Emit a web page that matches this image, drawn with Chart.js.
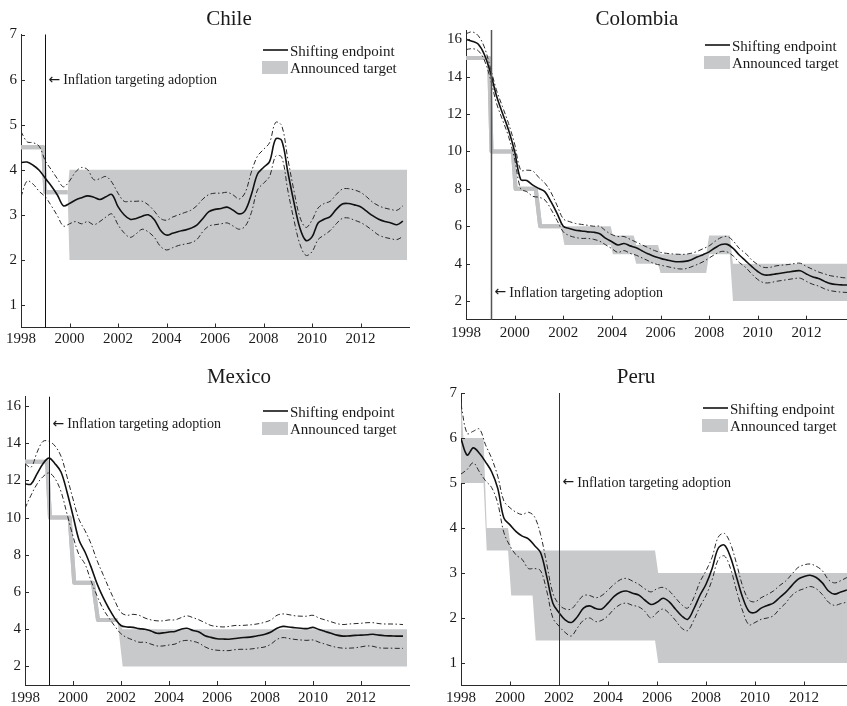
<!DOCTYPE html>
<html>
<head>
<meta charset="utf-8">
<script src="https://cdn.jsdelivr.net/npm/chart.js@4.4.1/dist/chart.umd.min.js"></script>
<style>
  html, body { margin: 0; padding: 0; background: #fff; overflow: hidden; }
  #page { position: relative; width: 847px; height: 706px; overflow: hidden; background: #fff; }
  #page canvas { position: absolute; }
</style>
</head>
<body>
<div id="page">
  <canvas id="chile" width="425" height="350" style="left:0;top:0"></canvas>
  <canvas id="colombia" width="440" height="345" style="left:425px;top:0"></canvas>
  <canvas id="mexico" width="425" height="356" style="left:0;top:350px"></canvas>
  <canvas id="peru" width="440" height="356" style="left:425px;top:350px"></canvas>
</div>
<script>
// Quarterly observation dates, 1998Q1 .. 2013Q4 (decimal years)
const quarters = Array.from({ length: 64 }, (_, i) => 1998 + i / 4);

const yearTicks = [1998, 2000, 2002, 2004, 2006, 2008, 2010, 2012];
const lowRangeTicks = [1, 2, 3, 4, 5, 6, 7];
const highRangeTicks = [2, 4, 6, 8, 10, 12, 14, 16];

// ---- Chile ----
const chileTrend = [4.16,4.17,4.10,3.99, 3.81,3.64,3.44,3.20, 3.25,3.33,3.38,3.42, 3.39,3.34,3.40,3.45,
  3.18,3.00,2.90,2.92, 2.97,3.00,2.89,2.66, 2.55,2.59,2.63,2.66, 2.70,2.77,2.92,3.07,
  3.12,3.14,3.17,3.10, 3.02,3.10,3.45,3.90, 4.05,4.18,4.68,4.65, 3.96,3.29,2.71,2.43,
  2.51,2.82,2.90,2.96, 3.12,3.24,3.25,3.22, 3.18,3.08,2.98,2.90, 2.85,2.82,2.78,2.86];
const chileUpper = [4.85,4.62,4.60,4.52, 4.20,4.00,3.80,3.62, 3.75,3.95,4.05,4.00, 3.78,3.80,3.85,3.72,
  3.48,3.30,3.30,3.30, 3.30,3.22,3.08,2.92, 2.88,2.95,3.00,3.05, 3.10,3.20,3.35,3.45,
  3.48,3.48,3.50,3.44, 3.35,3.50,3.95,4.30, 4.45,4.60,5.05,4.98, 4.25,3.55,2.95,2.72,
  2.88,3.15,3.25,3.30, 3.45,3.57,3.58,3.55, 3.50,3.40,3.28,3.20, 3.15,3.12,3.10,3.20];
const chileLower = [3.40,3.75,3.68,3.52, 3.40,3.20,2.98,2.75, 2.80,2.85,2.80,2.85, 2.78,2.85,2.95,3.02,
  2.78,2.60,2.50,2.58, 2.68,2.62,2.50,2.30, 2.22,2.27,2.32,2.35, 2.38,2.45,2.63,2.75,
  2.78,2.80,2.82,2.75, 2.68,2.75,3.05,3.55, 3.70,3.85,4.30,4.28, 3.55,2.90,2.35,2.10,
  2.18,2.45,2.55,2.65, 2.80,2.92,2.93,2.88, 2.83,2.75,2.65,2.55, 2.50,2.47,2.45,2.52];
const chileTargetDates = [1998.0, 1998.92, 1999.0, 1999.92, 2000.0, 2013.92];
const chileTargetLow   = [4.5, 4.5, 3.5, 3.5, 2, 2];
const chileTargetHigh  = [4.5, 4.5, 3.5, 3.5, 4, 4];

// ---- Colombia ----
const colombiaTrend = [16.00,15.90,15.75,15.20, 14.25,13.00,12.05,11.15, 10.00,8.50,8.45,8.20, 8.02,7.84,7.30,6.68,
  6.00,5.88,5.79,5.75, 5.70,5.68,5.60,5.35, 5.17,5.00,5.08,4.95, 4.85,4.68,4.52,4.38,
  4.28,4.20,4.13,4.10, 4.12,4.20,4.35,4.48, 4.63,4.85,5.02,5.03, 4.80,4.45,4.15,3.85,
  3.58,3.40,3.40,3.45, 3.50,3.55,3.60,3.62, 3.45,3.30,3.20,3.05, 2.93,2.88,2.86,2.85];
const colombiaUpper = [16.30,16.40,16.20,15.60, 14.50,13.30,12.40,11.50, 10.40,9.00,9.00,8.95, 8.60,8.30,7.80,7.10,
  6.40,6.25,6.15,6.10, 6.05,6.00,6.00,5.75, 5.55,5.45,5.45,5.30, 5.15,5.00,4.85,4.70,
  4.60,4.55,4.52,4.50, 4.50,4.55,4.65,4.80, 4.95,5.20,5.40,5.45, 5.20,4.80,4.55,4.20,
  3.95,3.80,3.80,3.88, 3.92,3.95,4.00,4.02, 3.85,3.70,3.55,3.45, 3.35,3.30,3.25,3.22];
const colombiaLower = [15.45,15.50,15.40,14.90, 13.90,12.60,11.70,10.80, 9.60,8.00,7.85,7.60, 7.55,7.40,6.90,6.30,
  5.70,5.50,5.40,5.35, 5.35,5.30,5.20,5.00, 4.80,4.60,4.70,4.55, 4.45,4.30,4.15,4.00,
  3.92,3.85,3.78,3.72, 3.72,3.82,3.95,4.10, 4.30,4.50,4.65,4.62, 4.40,4.05,3.80,3.45,
  3.15,2.98,2.98,3.05, 3.10,3.15,3.20,3.22, 3.05,2.90,2.80,2.65, 2.55,2.50,2.47,2.45];
const colombiaTargetDates = [1998.0, 1998.95, 1999.05, 1999.93, 2000.04, 2000.87, 2001.05, 2001.9, 2002.05, 2003.95,
  2004.04, 2004.9, 2005.0, 2005.9, 2006.0, 2007.88, 2008.0, 2008.85, 2008.98, 2013.92];
const colombiaTargetLow  = [15, 15, 10, 10, 8, 8, 6, 6, 5, 5, 4.5, 4.5, 4, 4, 3.5, 3.5, 4.5, 4.5, 2, 2];
const colombiaTargetHigh = [15, 15, 10, 10, 8, 8, 6, 6, 6, 6, 5.5, 5.5, 5, 5, 4.5, 4.5, 5.5, 5.5, 4, 4];

// ---- Mexico ----
const mexicoTrend = [11.82,11.80,12.35,12.90, 13.20,12.90,12.45,11.38, 10.10,8.80,8.15,7.35, 6.45,5.72,5.10,4.57,
  4.20,4.12,4.10,4.03, 4.00,3.90,3.78,3.80, 3.85,3.88,4.00,4.05, 3.93,3.85,3.65,3.56,
  3.49,3.47,3.46,3.50, 3.54,3.56,3.60,3.66, 3.73,3.85,4.05,4.15, 4.12,4.08,4.05,4.03,
  4.10,3.98,3.88,3.78, 3.68,3.63,3.64,3.67, 3.68,3.70,3.73,3.68, 3.65,3.64,3.63,3.63];
const mexicoUpper = [12.90,12.70,13.50,14.10, 14.10,13.85,13.30,12.20, 11.00,9.90,9.30,8.60, 7.70,6.95,6.20,5.50,
  4.90,4.75,4.80,4.75, 4.60,4.50,4.45,4.45, 4.50,4.50,4.62,4.72, 4.62,4.50,4.35,4.20,
  4.15,4.12,4.15,4.20, 4.20,4.22,4.25,4.30, 4.38,4.50,4.75,4.82, 4.78,4.72,4.70,4.70,
  4.75,4.60,4.50,4.40, 4.30,4.25,4.28,4.30, 4.32,4.35,4.35,4.30, 4.28,4.28,4.27,4.25];
const mexicoLower = [10.50,11.20,11.80,12.20, 12.40,12.10,11.40,10.20, 9.00,8.00,7.50,6.60, 5.80,5.10,4.60,4.15,
  3.75,3.55,3.42,3.30, 3.30,3.20,3.10,3.10, 3.15,3.20,3.35,3.40, 3.35,3.25,3.05,2.92,
  2.87,2.85,2.85,2.90, 2.92,2.92,2.95,3.00, 3.05,3.20,3.45,3.55, 3.50,3.45,3.42,3.40,
  3.42,3.30,3.20,3.10, 3.02,2.98,2.98,3.00, 3.05,3.10,3.08,3.00, 2.98,2.98,2.97,2.97];
const mexicoTargetDates = [1998.0, 1998.92, 1999.04, 1999.86, 2000.05, 2000.83, 2001.04, 2001.85, 2002.07, 2013.92];
const mexicoTargetLow  = [13, 13, 10, 10, 6.5, 6.5, 4.5, 4.5, 2, 2];
const mexicoTargetHigh = [13, 13, 10, 10, 6.5, 6.5, 4.5, 4.5, 4, 4];

// ---- Peru ----
const peruTrend = [5.98,5.62,5.78,5.66, 5.47,5.25,4.88,4.22, 4.07,3.92,3.82,3.76, 3.61,3.45,2.92,2.33,
  2.12,1.96,1.90,2.03, 2.22,2.27,2.21,2.20, 2.33,2.48,2.57,2.60, 2.55,2.51,2.40,2.30,
  2.35,2.44,2.36,2.20, 2.05,1.97,2.20,2.50, 2.75,3.10,3.55,3.62, 3.35,2.90,2.45,2.15,
  2.12,2.22,2.28,2.33, 2.45,2.57,2.72,2.86, 2.92,2.95,2.90,2.78, 2.60,2.53,2.58,2.62];
const peruUpper = [6.75,6.10,6.15,6.20, 5.85,5.55,5.15,4.60, 4.45,4.35,4.30,4.35, 4.25,3.85,3.20,2.55,
  2.30,2.20,2.20,2.35, 2.50,2.50,2.45,2.50, 2.62,2.75,2.85,2.88, 2.82,2.75,2.65,2.58,
  2.65,2.68,2.60,2.45, 2.30,2.22,2.45,2.80, 3.05,3.35,3.80,3.88, 3.65,3.20,2.70,2.40,
  2.36,2.45,2.52,2.60, 2.72,2.82,2.97,3.12, 3.18,3.20,3.15,3.05, 2.85,2.78,2.83,2.90];
const peruLower = [5.20,5.30,5.45,5.25, 5.05,4.90,4.55,3.90, 3.60,3.40,3.30,3.10, 3.10,3.05,2.60,2.00,
  1.82,1.68,1.60,1.78, 1.95,2.00,1.92,1.95, 2.05,2.20,2.30,2.33, 2.28,2.25,2.15,2.00,
  2.12,2.20,2.10,1.95, 1.78,1.72,1.95,2.25, 2.50,2.85,3.30,3.38, 3.10,2.60,2.15,1.85,
  1.90,1.97,2.00,2.05, 2.20,2.33,2.50,2.60, 2.65,2.70,2.65,2.52, 2.35,2.28,2.32,2.35];
const peruTargetDates = [1998.0, 1998.1, 1998.92, 1999.05, 1999.92, 2000.05, 2000.92, 2001.05, 2005.92, 2006.05, 2013.92];
const peruTargetLow  = [5.0, 5.0, 5.0, 3.5, 3.5, 2.5, 2.5, 1.5, 1.5, 1.0, 1.0];
const peruTargetHigh = [6.8, 6.0, 6.0, 4.0, 4.0, 3.5, 3.5, 3.5, 3.5, 3.0, 3.0];

// ---- drawing ----
const SERIF = '"Liberation Serif", "DejaVu Serif", serif';
const INK = '#1a1a1a';
const BAND = '#c8c9cb';
const POINT_TARGET = '#c1c2c4';

const toPoints = (xs, ys) => xs.map((x, i) => ({ x, y: ys[i] }));

function buildDatasets(trend, upper, lower, tDates, tLow, tHigh) {
  // thick grey line only where the target is a single number
  const pointTargetColor = ctx =>
    (tLow[ctx.p0DataIndex] === tHigh[ctx.p0DataIndex] && tLow[ctx.p1DataIndex] === tHigh[ctx.p1DataIndex])
      ? POINT_TARGET : 'rgba(0,0,0,0)';
  const bandLine = data => ({
    data, borderColor: '#2a2a2a', borderWidth: 1, borderDash: [5, 2.5, 1.5, 2.5],
    tension: 0.35, fill: false, order: 1
  });
  return [
    { data: toPoints(quarters, trend), borderColor: '#111', borderWidth: 1.6, tension: 0.35, fill: false, order: 0 },
    bandLine(toPoints(quarters, upper)),
    bandLine(toPoints(quarters, lower)),
    { data: toPoints(tDates, tLow), borderWidth: 4, borderColor: 'rgba(0,0,0,0)', borderCapStyle: 'butt',
      segment: { borderColor: pointTargetColor }, tension: 0, fill: false, order: 2 },
    { data: toPoints(tDates, tHigh), borderWidth: 4, borderColor: 'rgba(0,0,0,0)', borderCapStyle: 'butt',
      segment: { borderColor: pointTargetColor }, backgroundColor: BAND, tension: 0, fill: '-1', order: 2 }
  ];
}

const panelDecor = {
  id: 'panelDecor',
  afterDatasetsDraw(chart, args, o) {
    const { ctx, chartArea: a, scales: { x, y } } = chart;
    ctx.save();
    // inward tick marks
    ctx.strokeStyle = '#2b2b2b';
    ctx.lineWidth = 1;
    ctx.beginPath();
    for (const t of y.ticks) {
      const py = Math.round(y.getPixelForValue(t.value)) + 0.5;
      ctx.moveTo(a.left, py); ctx.lineTo(a.left + 4, py);
    }
    for (const t of x.ticks) {
      const px = Math.round(x.getPixelForValue(t.value)) + 0.5;
      ctx.moveTo(px, a.bottom); ctx.lineTo(px, a.bottom - 4);
    }
    ctx.stroke();

    // adoption date marker
    const vx = Math.round(x.getPixelForValue(o.adoption)) + 0.5;
    ctx.strokeStyle = o.adoptionColor;
    ctx.lineWidth = o.adoptionWidth;
    ctx.beginPath(); ctx.moveTo(vx, a.top); ctx.lineTo(vx, a.bottom); ctx.stroke();
    ctx.fillStyle = INK;
    ctx.textAlign = 'left';
    ctx.textBaseline = 'alphabetic';
    ctx.font = '14px "DejaVu Sans", sans-serif';
    const arrow = '\u2190';
    ctx.fillText(arrow, vx + 3, o.noteY - 0.5);
    const aw = ctx.measureText(arrow).width;
    ctx.font = '14px ' + SERIF;
    ctx.fillText('Inflation targeting adoption', vx + 3 + aw + 3, o.noteY);

    // legend
    const lx = o.legendX, ly = o.legendY;
    ctx.strokeStyle = '#111'; ctx.lineWidth = 1.6;
    ctx.beginPath(); ctx.moveTo(lx, ly); ctx.lineTo(lx + 25, ly); ctx.stroke();
    ctx.fillStyle = BAND;
    ctx.fillRect(lx - 1, ly + 11, 26, 13);
    ctx.fillStyle = INK;
    ctx.font = '15px ' + SERIF;
    ctx.fillText('Shifting endpoint', lx + 27, ly + 5.5);
    ctx.fillText('Announced target', lx + 27, ly + 22.5);

    // panel title
    ctx.font = '21px ' + SERIF;
    ctx.textAlign = 'center';
    ctx.fillText(o.title, o.titleX, o.titleY);
    ctx.restore();
  }
};

function makePanel(id, p) {
  return new Chart(document.getElementById(id), {
    type: 'line',
    data: { datasets: buildDatasets(p.trend, p.upper, p.lower, p.tDates, p.tLow, p.tHigh) },
    options: {
      responsive: false,
      animation: false,
      events: [],
      layout: { padding: { left: 0, top: p.top, right: p.right, bottom: 0 } },
      elements: { point: { radius: 0 }, line: { borderJoinStyle: 'round' } },
      plugins: { legend: { display: false }, tooltip: { enabled: false }, panelDecor: p.decor },
      scales: {
        x: {
          type: 'linear', min: 1998, max: 2014,
          afterBuildTicks: s => { s.ticks = yearTicks.map(v => ({ value: v })); },
          afterFit: s => { s.height = p.xh; },
          grid: { display: false, drawTicks: false },
          border: { display: true, color: '#2b2b2b', width: 1 },
          ticks: { padding: p.xpad, color: INK, font: { family: SERIF, size: 15 },
                   maxRotation: 0, autoSkip: false, callback: v => String(v) }
        },
        y: {
          type: 'linear', min: p.ymin, max: p.ymax,
          afterBuildTicks: s => { s.ticks = p.yticks.map(v => ({ value: v })); },
          afterFit: s => { s.width = p.yw; },
          grid: { display: false, drawTicks: false },
          border: { display: true, color: '#2b2b2b', width: 1 },
          ticks: { padding: 4, color: INK, font: { family: SERIF, size: 15 }, callback: v => String(v) }
        }
      }
    },
    plugins: [panelDecor]
  });
}

makePanel('chile', {
  trend: chileTrend, upper: chileUpper, lower: chileLower,
  tDates: chileTargetDates, tLow: chileTargetLow, tHigh: chileTargetHigh,
  ymin: 0.5, ymax: 7, yticks: lowRangeTicks,
  top: 34.5, right: 16, xh: 22.5, yw: 21, xpad: 3,
  decor: { title: 'Chile', titleX: 229, titleY: 24.5, adoption: 1999.0, adoptionColor: '#111', adoptionWidth: 1,
           noteY: 84, legendX: 263, legendY: 50 }
});

makePanel('colombia', {
  trend: colombiaTrend, upper: colombiaUpper, lower: colombiaLower,
  tDates: colombiaTargetDates, tLow: colombiaTargetLow, tHigh: colombiaTargetHigh,
  ymin: 1, ymax: 16.5, yticks: highRangeTicks,
  top: 30, right: 10, xh: 25.3, yw: 41, xpad: 4,
  decor: { title: 'Colombia', titleX: 212, titleY: 24.5, adoption: 1999.03, adoptionColor: '#555', adoptionWidth: 1.5,
           noteY: 296.7, legendX: 280, legendY: 45 }
});

makePanel('mexico', {
  trend: mexicoTrend, upper: mexicoUpper, lower: mexicoLower,
  tDates: mexicoTargetDates, tLow: mexicoTargetLow, tHigh: mexicoTargetHigh,
  ymin: 1, ymax: 16.5, yticks: highRangeTicks,
  top: 46.7, right: 16, xh: 21, yw: 25, xpad: 4,
  decor: { title: 'Mexico', titleX: 239, titleY: 32.5, adoption: 1999.0, adoptionColor: '#111', adoptionWidth: 1,
           noteY: 78.3, legendX: 263, legendY: 61 }
});

makePanel('peru', {
  trend: peruTrend, upper: peruUpper, lower: peruLower,
  tDates: peruTargetDates, tLow: peruTargetLow, tHigh: peruTargetHigh,
  ymin: 0.5, ymax: 7, yticks: lowRangeTicks,
  top: 43, right: 12, xh: 20.5, yw: 36, xpad: 4,
  decor: { title: 'Peru', titleX: 211, titleY: 32.5, adoption: 2002.0, adoptionColor: '#333', adoptionWidth: 1,
           noteY: 136.7, legendX: 278, legendY: 58 }
});
</script>
</body>
</html>
